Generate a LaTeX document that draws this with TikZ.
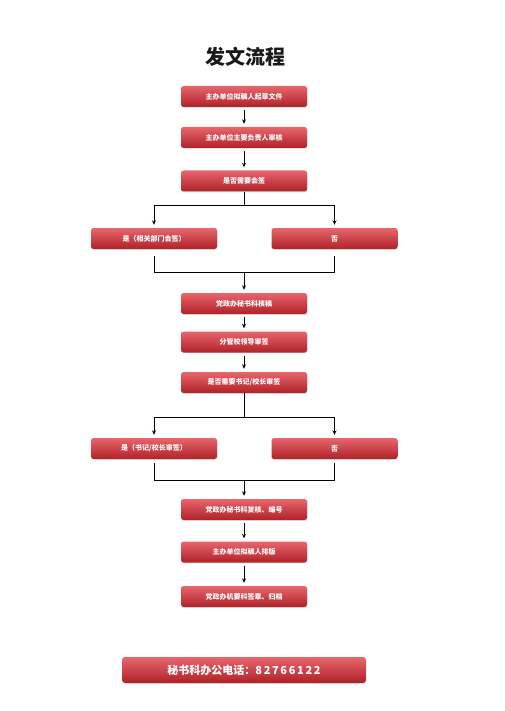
\documentclass[tikz,border=0pt]{standalone}
\usepackage{fontspec}
\newfontfamily\cjk{Noto Sans CJK SC}
\usetikzlibrary{arrows.meta,shadows}
\definecolor{redtop}{HTML}{E9656C}
\definecolor{redbot}{HTML}{AE2228}
\tikzset{
  box/.style={rounded corners=2.5pt, top color=redtop, bottom color=redbot, draw=none,
    minimum width=126pt, minimum height=21pt, inner sep=0pt, text=white,
    font=\cjk\bfseries\fontsize{7}{8}\selectfont,
    drop shadow={shadow xshift=0.6pt, shadow yshift=-0.8pt, opacity=0.2}},
  conn/.style={line width=0.9pt, black},
  arr/.style={conn, -{Stealth[length=4.5pt,width=4pt]}},
}
\begin{document}
\begin{tikzpicture}[x=1pt,y=-1pt]
\useasboundingbox (0,0) rectangle (504,711);
\fill[white] (0,0) rectangle (504,711);
\node[font=\cjk\bfseries\fontsize{20}{22}\selectfont, text=black!90] (title) at (245,57) {发文流程};
\node[box] (b1) at (244,96.5) {主办单位拟稿人起草文件};
\node[box] (b2) at (244,137.5) {主办单位主要负责人审核};
\node[box] (b3) at (244,181) {是否需要会签};
\node[box] (l1) at (154,238.5) {是（相关部门会签）};
\node[box] (r1) at (334.5,238.5) {否};
\node[box] (b5) at (244,303.5) {党政办秘书科核稿};
\node[box] (b6) at (244,342) {分管校领导审签};
\node[box] (b7) at (244,382.5) {是否需要书记/校长审签};
\node[box] (l2) at (154,448.5) {是（书记/校长审签）};
\node[box] (r2) at (334.5,448.5) {否};
\node[box] (b9) at (244,509.5) {党政办秘书科复核、编号};
\node[box] (b10) at (244,552) {主办单位拟稿人排版};
\node[box] (b11) at (244,596.5) {党政办机要科签章、归档};
\node[box, minimum width=244pt, minimum height=26pt, rounded corners=3pt,
  font=\cjk\bfseries\fontsize{11}{12}\selectfont] (foot) at (244,670)
  {秘书科办公电话：\addfontfeature{LetterSpace=15}82766122};
% straight arrows
\draw[arr, shorten <=3pt, shorten >=3pt] (b1) -- (b2);
\draw[arr, shorten <=3pt, shorten >=3pt] (b2) -- (b3);
\draw[arr, shorten <=3pt, shorten >=3pt] (b5) -- (b6);
\draw[arr, shorten <=3pt, shorten >=3pt] (b6) -- (b7);
\draw[arr, shorten <=3pt, shorten >=3pt] (b9) -- (b10);
\draw[arr, shorten <=3pt, shorten >=3pt] (b10) -- (b11);
% branch 1
\coordinate (s1) at (244,205);
\coordinate (s1l) at (154,205);
\coordinate (s1r) at (334.5,205);
\draw[conn] (b3.south) -- (s1);
\draw[conn] (s1l) -- (s1r);
\draw[arr, shorten >=3pt] (s1l) -- (l1.north);
\draw[arr, shorten >=3pt] (s1r) -- (r1.north);
\coordinate (m1) at (244,272);
\coordinate (m1l) at (154,272);
\coordinate (m1r) at (334.5,272);
\draw[conn, shorten <=7pt] (l1.south) -- (m1l);
\draw[conn, shorten <=7pt] (r1.south) -- (m1r);
\draw[conn] (m1l) -- (m1r);
\draw[arr, shorten >=3pt] (m1) -- (b5.north);
% branch 2
\coordinate (s2) at (244,417);
\coordinate (s2l) at (154,417);
\coordinate (s2r) at (334.5,417);
\draw[conn] (b7.south) -- (s2);
\draw[conn] (s2l) -- (s2r);
\draw[arr, shorten >=3pt] (s2l) -- (l2.north);
\draw[arr, shorten >=3pt] (s2r) -- (r2.north);
\coordinate (m2) at (244,480);
\coordinate (m2l) at (154,480);
\coordinate (m2r) at (334.5,480);
\draw[conn, shorten <=4pt] (l2.south) -- (m2l);
\draw[conn, shorten <=4pt] (r2.south) -- (m2r);
\draw[conn] (m2l) -- (m2r);
\draw[arr, shorten >=3pt] (m2) -- (b9.north);
\end{tikzpicture}
\end{document}
